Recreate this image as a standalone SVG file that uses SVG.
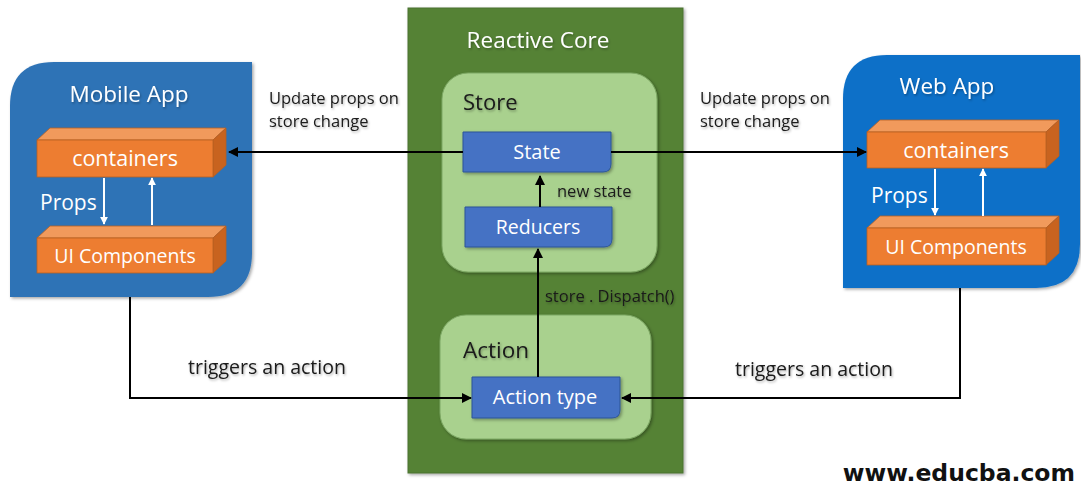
<svg xmlns="http://www.w3.org/2000/svg" width="1081" height="491" viewBox="0 0 1081 491">
  <defs>
    <style>
      .t { font-family: "Open Sans", "Liberation Sans", sans-serif; }
      .wt { fill: #ffffff; }
      .dk { fill: #1a1a1a; }
      .app-m { fill: #2f73b6; }
      .app-w { fill: #0a6fc8; }
      .core { fill: #548235; stroke: #4a7330; stroke-width: 1; }
      .lite { fill: #a9d18e; stroke: #7da864; stroke-width: 1; }
      .blue { fill: #4472c4; stroke: #2f5597; stroke-width: 1; }
      .front { fill: #ed7d31; stroke: #b75f22; stroke-width: 0.8; }
      .top { fill: #f19a5c; stroke: #b75f22; stroke-width: 0.8; }
      .side { fill: #c8631f; stroke: #b75f22; stroke-width: 0.8; }
      .conn { fill: none; stroke: #000; stroke-width: 2; }
      .wline { fill: none; stroke: #fff; stroke-width: 2; }
    </style>
    <marker id="ah" viewBox="0 0 10 10" refX="9" refY="5" markerWidth="5" markerHeight="5" orient="auto">
      <path d="M0,0 L10,5 L0,10 z" fill="#000"/>
    </marker>
    <marker id="wh" viewBox="0 0 10 10" refX="9" refY="5" markerWidth="4" markerHeight="4" orient="auto">
      <path d="M0,0 L10,5 L0,10 z" fill="#fff"/>
    </marker>
    <filter id="sh" x="-10%" y="-10%" width="130%" height="130%">
      <feDropShadow dx="1.5" dy="1.5" stdDeviation="1.5" flood-color="#000" flood-opacity="0.35"/>
    </filter>
    <filter id="tsh" x="-5%" y="-20%" width="115%" height="150%">
      <feDropShadow dx="1" dy="1.5" stdDeviation="1" flood-color="#000" flood-opacity="0.3"/>
    </filter>
  </defs>

  <rect width="1081" height="491" fill="#ffffff"/>

  <!-- Mobile App panel -->
  <g id="mobile-app">
    <path class="app-m" filter="url(#sh)" d="M10,106 Q10,62 54,62 L252,62 L252,253 Q252,297 208,297 L10,297 Z"/>
    <text class="t wt" x="129" y="102" font-size="22.5" text-anchor="middle" filter="url(#tsh)">Mobile App</text>
  </g>

  <g id="mobile-containers">
    <polygon class="top" points="37,140 50,128 226,128 213,140"/>
    <polygon class="side" points="213,140 226,128 226,165 213,177"/>
    <rect class="front" x="37" y="140" width="176" height="37"/>
    <text class="t wt" x="125" y="166" font-size="21.5" text-anchor="middle">containers</text>
  </g>

  <g id="mobile-ui">
    <polygon class="top" points="37,238 50,226 226,226 213,238"/>
    <polygon class="side" points="213,238 226,226 226,261 213,273"/>
    <rect class="front" x="37" y="238" width="176" height="35"/>
    <text class="t wt" x="125" y="263" font-size="19.5" text-anchor="middle">UI Components</text>
  </g>

  <!-- Web App panel -->
  <g id="web-app">
    <path class="app-w" filter="url(#sh)" d="M843,99 Q843,55 887,55 L1080,55 L1080,244 Q1080,288 1036,288 L843,288 Z"/>
    <text class="t wt" x="947" y="94" font-size="22.5" text-anchor="middle" filter="url(#tsh)">Web App</text>
  </g>

  <g id="web-containers">
    <polygon class="top" points="867,132 880,120 1059,120 1046,132"/>
    <polygon class="side" points="1046,132 1059,120 1059,156 1046,168"/>
    <rect class="front" x="867" y="132" width="179" height="36"/>
    <text class="t wt" x="956" y="158" font-size="21.5" text-anchor="middle">containers</text>
  </g>

  <g id="web-ui">
    <polygon class="top" points="867,228 880,216 1059,216 1046,228"/>
    <polygon class="side" points="1046,228 1059,216 1059,253 1046,265"/>
    <rect class="front" x="867" y="228" width="179" height="37"/>
    <text class="t wt" x="956" y="254" font-size="19.5" text-anchor="middle">UI Components</text>
  </g>

  <!-- Reactive Core -->
  <g id="reactive-core">
    <rect class="core" x="408" y="8" width="275" height="465" filter="url(#sh)"/>
    <text class="t wt" x="538" y="48" font-size="22.5" text-anchor="middle" filter="url(#tsh)">Reactive Core</text>
  </g>

  <g id="store">
    <rect class="lite" x="442" y="73" width="215" height="199" rx="26" filter="url(#sh)"/>
    <text class="t dk" x="463" y="110" font-size="22" filter="url(#tsh)">Store</text>
  </g>

  <g id="state">
    <path class="blue" filter="url(#sh)" d="M463,132 L611,132 L611,164 Q611,172 603,172 L463,172 Z"/>
    <text class="t wt" x="537" y="159" font-size="20" text-anchor="middle">State</text>
  </g>

  <g id="reducers">
    <path class="blue" filter="url(#sh)" d="M465,207 L612,207 L612,239 Q612,247 604,247 L465,247 Z"/>
    <text class="t wt" x="538" y="234" font-size="19.5" text-anchor="middle">Reducers</text>
  </g>

  <g id="action">
    <rect class="lite" x="440" y="315" width="211" height="124" rx="26" filter="url(#sh)"/>
    <text class="t dk" x="463" y="358" font-size="22.5" filter="url(#tsh)">Action</text>
  </g>

  <g id="action-type">
    <path class="blue" filter="url(#sh)" d="M472,377 L620,377 L620,410 Q620,418 612,418 L472,418 Z"/>
    <text class="t wt" x="545" y="404" font-size="20" text-anchor="middle">Action type</text>
  </g>

  <!-- Connectors -->
  <g id="connectors">
    <line class="wline" x1="104" y1="178" x2="104" y2="224" marker-end="url(#wh)"/>
    <line class="wline" x1="152" y1="225" x2="152" y2="178" marker-end="url(#wh)"/>
    <line class="wline" x1="935" y1="169" x2="935" y2="215" marker-end="url(#wh)"/>
    <line class="wline" x1="983" y1="216" x2="983" y2="169" marker-end="url(#wh)"/>

    <line class="conn" x1="463" y1="152" x2="229" y2="152" marker-end="url(#ah)"/>
    <line class="conn" x1="611" y1="152" x2="866" y2="152" marker-end="url(#ah)"/>
    <line class="conn" x1="540" y1="207" x2="540" y2="176" marker-end="url(#ah)"/>
    <line class="conn" x1="538" y1="377" x2="538" y2="249" marker-end="url(#ah)"/>
    <polyline class="conn" points="130,297 130,398 471,398" marker-end="url(#ah)"/>
    <polyline class="conn" points="960,288 960,398 622,398" marker-end="url(#ah)"/>
  </g>

  <!-- Labels -->
  <g id="labels" class="t">
    <text class="wt" x="40" y="210" font-size="21">Props</text>
    <text class="wt" x="871" y="203" font-size="21">Props</text>
    <text class="dk" font-size="16.5" filter="url(#tsh)"><tspan x="269" y="104">Update props on</tspan><tspan x="269" y="127">store change</tspan></text>
    <text class="dk" font-size="16.5" filter="url(#tsh)"><tspan x="700" y="104">Update props on</tspan><tspan x="700" y="127">store change</tspan></text>
    <text class="dk" x="557" y="197" font-size="16.5" filter="url(#tsh)">new state</text>
    <text class="dk" x="545" y="302" font-size="16.5" filter="url(#tsh)">store . Dispatch()</text>
    <text class="dk" x="188" y="374" font-size="19.5" filter="url(#tsh)">triggers an action</text>
    <text class="dk" x="735" y="376" font-size="19.5" filter="url(#tsh)">triggers an action</text>
    <text x="1075" y="481" font-size="23.5" font-weight="bold" text-anchor="end" fill="#111" style="font-family: 'DejaVu Sans', Verdana, sans-serif">www.educba.com</text>
  </g>
</svg>
